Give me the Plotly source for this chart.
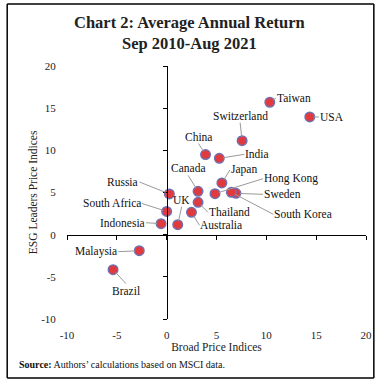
import plotly.graph_objects as go

# ---- data ----
countries = ["Taiwan", "USA", "Switzerland", "China", "India", "Japan", "Hong Kong",
             "Sweden", "South Korea", "Canada", "Thailand", "Australia", "UK", "Russia",
             "South Africa", "Indonesia", "Malaysia", "Brazil"]
broad = [10.35, 14.36, 7.57, 3.90, 5.28, 5.54, 4.85, 6.95, 6.49, 3.15, 3.15, 2.49, 1.11,
         0.27, 0.00, -0.56, -2.75, -5.38]
esg = [15.70, 13.96, 11.15, 9.50, 9.05, 6.13, 4.86, 4.90, 5.02, 5.14, 3.83, 2.65, 1.19,
       4.83, 2.76, 1.30, -1.90, -4.15]
tick_vals = [-10, -5, 0, 5, 10, 15, 20]
tick_text = ["-10", "-5", "0", "5", "10", "15", "20"]

title_text = "<b>Chart 2: Average Annual Return<br>Sep 2010-Aug 2021</b>"
x_title = "Broad Price Indices"
y_title = "ESG Leaders Price Indices"
source_text = "<b>Source:</b> Authors\u2019 calculations based on MSCI data."

# ---- label placement (layout, pixel offsets) ----
label_pos = {
    "Taiwan": ("left", "middle", 6, -4),
    "USA": ("left", "middle", 9, 0),
    "Switzerland": ("center", "bottom", -2, -18),
    "China": ("center", "bottom", -7, -11),
    "India": ("left", "middle", 25, -4),
    "Japan": ("left", "middle", 8, -13),
    "Hong Kong": ("left", "middle", 48, -15),
    "Sweden": ("left", "middle", 27, 1),
    "South Korea": ("left", "middle", 42, 22),
    "Canada": ("center", "bottom", -10, -16),
    "Thailand": ("left", "middle", 10, 10),
    "Australia": ("left", "middle", 8, 13),
    "UK": ("center", "bottom", 4, -18),
    "Russia": ("right", "middle", -30, -12),
    "South Africa": ("right", "middle", -25, -8),
    "Indonesia": ("right", "middle", -15, -1),
    "Malaysia": ("right", "middle", -21, 1),
    "Brazil": ("center", "top", 13, 14),
}

FONT = "Liberation Serif"
W, H = 384, 384
ml, mr, mt, mb = 67, 12, 66, 65
pw, ph = W - ml - mr, H - mt - mb


def px_x(p):
    return (p - ml) / pw


def px_y(p):
    return (mt + ph - p) / ph


fig = go.Figure()
fig.add_trace(go.Scatter(
    x=broad, y=esg, mode="markers", text=countries, hoverinfo="text",
    marker=dict(size=9.5, color="#e0393e", line=dict(color="#7070b0", width=1.5)),
    showlegend=False,
))
# helper trace for the axes drawn through the origin
fig.add_trace(go.Scatter(x=[], y=[], xaxis="x2", yaxis="y2", showlegend=False))

annotations = []
for c, xv, yv in zip(countries, broad, esg):
    xa, ya, ax, ay = label_pos[c]
    annotations.append(dict(
        x=xv, y=yv, xref="x", yref="y", text=c, showarrow=True,
        ax=ax, ay=ay, xanchor=xa, yanchor=ya, arrowhead=0, arrowwidth=1,
        arrowcolor="#9a9a9a", standoff=4, borderpad=0,
        font=dict(family=FONT, size=11.5, color="#111"),
    ))
annotations.append(dict(
    xref="paper", yref="paper", x=px_x(16), y=px_y(364),
    xanchor="left", yanchor="middle", showarrow=False, text=source_text,
    font=dict(family=FONT, size=10, color="#111"),
))
annotations.append(dict(
    xref="paper", yref="paper", x=px_x(192), y=px_y(33),
    xanchor="center", yanchor="middle", showarrow=False, text=title_text,
    font=dict(family=FONT, size=16.5, color="#222"),
))
annotations.append(dict(
    xref="paper", yref="paper", x=px_x(32), y=0.5, textangle=-90,
    xanchor="center", yanchor="middle", showarrow=False, text=y_title,
    font=dict(family=FONT, size=11.5, color="#222"),
))

bx0, bx1, by0, by1 = px_x(6), px_x(380), px_y(378), px_y(4)
border = dict(color="black", width=1.5)
shapes = [
    dict(type="line", xref="paper", yref="paper", x0=bx0, x1=bx1, y0=by0, y1=by0, line=border),
    dict(type="line", xref="paper", yref="paper", x0=bx0, x1=bx1, y0=by1, y1=by1, line=border),
    dict(type="line", xref="paper", yref="paper", x0=bx0, x1=bx0, y0=by0, y1=by1, line=border),
    dict(type="line", xref="paper", yref="paper", x0=bx1, x1=bx1, y0=by0, y1=by1, line=border),
]

fig.update_layout(
    width=W, height=H, margin=dict(l=ml, r=mr, t=mt, b=mb),
    paper_bgcolor="white", plot_bgcolor="white",
    font=dict(family=FONT, size=11, color="#222"),
    xaxis=dict(range=[-10, 20], tickvals=tick_vals, ticktext=tick_text,
               showgrid=False, zeroline=False, showline=False,
               ticks="outside", ticklen=6, tickcolor="rgba(0,0,0,0)",
               title=dict(text=x_title, standoff=2, font=dict(size=11.5))),
    yaxis=dict(range=[-10, 20], tickvals=tick_vals, ticktext=tick_text,
               showgrid=False, zeroline=False, showline=False,
               ticks="outside", ticklen=8, tickcolor="rgba(0,0,0,0)"),
    xaxis2=dict(range=[-10, 20], tickvals=tick_vals, overlaying="x",
                anchor="free", position=1 / 3, side="bottom",
                showline=True, linecolor="black", linewidth=1.2,
                ticks="outside", ticklen=4, tickcolor="black", tickwidth=1,
                showticklabels=False, showgrid=False, zeroline=False),
    yaxis2=dict(range=[-10, 20], tickvals=tick_vals, overlaying="y",
                anchor="free", position=1 / 3, side="left",
                showline=True, linecolor="black", linewidth=1.2,
                ticks="outside", ticklen=4, tickcolor="black", tickwidth=1,
                showticklabels=False, showgrid=False, zeroline=False),
    annotations=annotations,
    shapes=shapes,
)

fig.write_html("out.html", config={"displayModeBar": False},
               post_script="document.body.style.margin='0px';")
